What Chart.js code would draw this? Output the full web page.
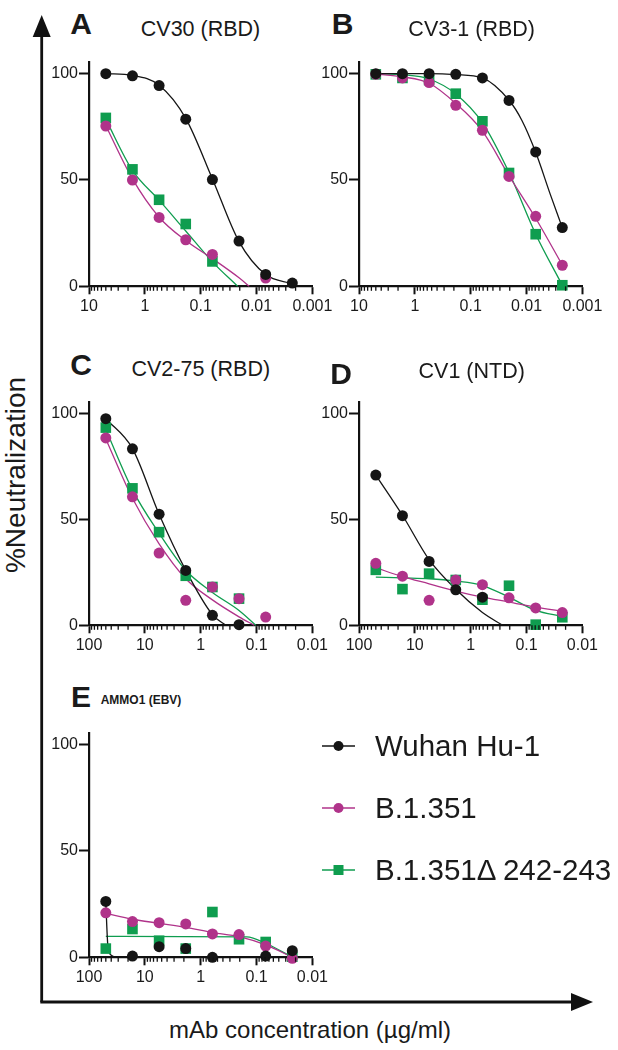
<!DOCTYPE html>
<html>
<head>
<meta charset="utf-8">
<script src="https://cdn.jsdelivr.net/npm/chart.js@4.4.1/dist/chart.umd.min.js"></script>
<style>
  html, body { margin: 0; padding: 0; background: #fff; }
  #page { position: relative; width: 618px; height: 1050px; overflow: hidden;
          font-family: "Liberation Sans", Arial, sans-serif; color: #1a1a1a; }
  #page canvas { position: absolute; }
  .txt { position: absolute; white-space: nowrap; line-height: 1; transform: translate(-50%, -50%); }
  .letter { font-size: 30px; font-weight: bold; }
  .title { font-size: 21.5px; }
  .leg { position: absolute; white-space: nowrap; line-height: 1; font-size: 29.5px; transform: translateY(-50%); }
</style>
</head>
<body>
<div id="page">
  <svg id="arrows" width="618" height="1050" style="position:absolute;left:0;top:0">
    <line x1="41.7" y1="1002" x2="41.7" y2="34" stroke="#111" stroke-width="2.8"/>
    <polygon points="41.7,15 32.7,37 50.7,37" fill="#111"/>
    <line x1="40.3" y1="1002" x2="575" y2="1002" stroke="#111" stroke-width="2.8"/>
    <polygon points="593,1002 571,993 571,1011" fill="#111"/>
  </svg>
  <div class="txt" style="left:16px;top:475px;font-size:28px;transform:translate(-50%,-50%) rotate(-90deg)">%Neutralization</div>
  <div class="txt" style="left:310px;top:1030px;font-size:24px">mAb concentration (µg/ml)</div>
</div>
<script>
// --- Daten ---
const SERIES = ["Wuhan Hu-1", "B.1.351", "B.1.351\u0394 242-243"];
const COLORS = ["#151515", "#b0338a", "#0f9d4f"];
const SHAPES = ["circle", "circle", "rect"];

// 3-fach Verdünnungen (µg/ml)
const concAB = [5, 1.667, 0.5556, 0.1852, 0.0617, 0.0206, 0.00686, 0.00229];
const concCDE = [50, 16.67, 5.556, 1.852, 0.617, 0.206, 0.0686, 0.0229];

const xTicksAB = ["10", "1", "0.1", "0.01", "0.001"];
const xTicksCDE = ["100", "10", "1", "0.1", "0.01"];
const yTicks = [0, 50, 100];

// A: CV30 (RBD)
const aWuhan = [100, 99, 94.4, 78.6, 50.2, 21.3, 5.6, 1.5];
const aB1351 = [75.4, 50, 32.4, 21.9, 15, null, 3.9, null];
const aDelta = [79.2, 55, 40.7, 29.3, 11.7, null, null, null];
const aWuhanFit = [[5,100],[1.667,99.2],[0.5556,94.6],[0.1852,79],[0.0617,50.5],[0.0206,21],[0.00686,5.5],[0.00229,1.2]];
const aB1351Fit = [[5,75.5],[1.667,50.5],[0.5556,32.5],[0.1852,21.5],[0.0617,13],[0.0206,4],[0.0135,0]];
const aDeltaFit = [[5,78.5],[1.667,54.5],[0.5556,40.5],[0.1852,26],[0.0617,11.5],[0.0218,0]];

// B: CV3-1 (RBD)
const bWuhan = [100, 100, 100, 99.7, 98, 87.4, 63.2, 27.6];
const bB1351 = [99.7, 98, 95.8, 85.1, 73.4, 51.7, 32.9, 9.9];
const bDelta = [99.7, 98, 97, 90.6, 77.6, 53.3, 24.5, 0.5];
const bWuhanFit = [[5,100],[1.667,100],[0.5556,100],[0.1852,99.6],[0.0617,98],[0.0206,87.5],[0.0121,78],[0.00686,63],[0.00373,43],[0.00229,27.6]];
const bB1351Fit = [[5,99.8],[1.667,98.5],[0.5556,95.5],[0.1852,86],[0.0617,73],[0.0206,52],[0.00686,32],[0.00229,10]];
const bDeltaFit = [[5,100],[1.667,99.5],[0.5556,97.5],[0.1852,90.5],[0.0617,77],[0.0206,53.5],[0.00686,24.5],[0.00229,0.5]];

// C: CV2-75 (RBD)
const cWuhan = [97.6, 83.4, 52.5, 25.9, 4.7, 0.3, null, null];
const cB1351 = [88.5, 60.7, 34.1, 11.8, 18.1, 12.6, 3.9, null];
const cDelta = [93.4, 64.7, 44, 23.4, 18.1, 12.6, null, null];
const cWuhanFit = [[50,97.6],[16.67,83.5],[5.556,52.5],[1.852,26],[0.617,5],[0.353,0]];
const cB1351Fit = [[50,88],[16.67,60],[5.556,38.5],[1.852,22],[0.617,12],[0.206,4],[0.11,0]];
const cDeltaFit = [[50,92.5],[16.67,64],[5.556,43.5],[1.852,26],[0.617,15.5],[0.206,7],[0.103,0]];

// D: CV1 (NTD)
const dWuhan = [71, 51.8, 30.2, 16.8, 13.3, null, null, null];
const dB1351 = [29.3, 23.2, 11.8, 21.4, 19.2, 13, 8.2, 6];
const dDelta = [26.2, 17.1, 24.4, 21.4, 12.1, 18.7, 0.3, 3.8];
const dWuhanFit = [[50,71],[16.67,52],[5.556,31],[1.852,17],[0.617,6],[0.268,0]];
const dB1351Fit = [[50,27.2],[16.67,23],[5.556,19.6],[1.852,16.2],[0.617,13.3],[0.206,11],[0.0686,8.6],[0.0229,6.6]];
const dDeltaFit = [[50,22.8],[16.67,22.4],[5.556,22],[1.852,20.9],[0.617,18.8],[0.206,13.3],[0.0686,7],[0.0229,4.2]];

// E: AMMO1 (EBV)
const eWuhan = [26.3, 0.6, 5, 4.1, 0, null, 0.6, 3.1];
const eB1351 = [20.9, 16.8, 16.3, 15.7, 11, 10.7, 5.3, -0.5];
const eDelta = [4.1, 13.3, 7.8, 4.1, 21.3, 8.5, 7.2, 0.3];
const eWuhanFit = [[50,25.5],[45.8,5],[40,1],[33,0]];
const eB1351Fit = [[50,20.7],[16.67,17.9],[5.556,16],[1.852,14.1],[0.617,11.6],[0.206,9.7],[0.0686,5.8],[0.0229,0]];
const eDeltaFit = [[50,9.8],[0.15,9.6],[0.0686,6.6],[0.0229,0]];

// --- Layout der Panels (Pixel der Plotfläche) ---
const AXIS = "#111";
const FONT = "Liberation Sans, Arial, sans-serif";
const Y_TOP = 105.5;

const panels = [
  { L: 89.3, R: 312.7, T: 61.7, B: 286, conc: concAB, ticks: xTicksAB,
    pts: [aWuhan, aB1351, aDelta], fits: [aWuhanFit, aB1351Fit, aDeltaFit] },
  { L: 359.3, R: 582.7, T: 61.7, B: 286, conc: concAB, ticks: xTicksAB,
    pts: [bWuhan, bB1351, bDelta], fits: [bWuhanFit, bB1351Fit, bDeltaFit] },
  { L: 89.3, R: 312.7, T: 401.7, B: 625, conc: concCDE, ticks: xTicksCDE,
    pts: [cWuhan, cB1351, cDelta], fits: [cWuhanFit, cB1351Fit, cDeltaFit] },
  { L: 359.3, R: 582.7, T: 401.7, B: 625, conc: concCDE, ticks: xTicksCDE,
    pts: [dWuhan, dB1351, dDelta], fits: [dWuhanFit, dB1351Fit, dDeltaFit] },
  { L: 89.3, R: 312.7, T: 733, B: 957.3, conc: concCDE, ticks: xTicksCDE,
    pts: [eWuhan, eB1351, eDelta], fits: [eWuhanFit, eB1351Fit, eDeltaFit] }
];

// Überschriften: [text, x, y, class, extra style]
const headers = [
  ["A", 81, 24, "letter"], ["CV30 (RBD)", 200.5, 30, "title"],
  ["B", 342.5, 24, "letter"], ["CV3-1 (RBD)", 471.7, 30, "title"],
  ["C", 81, 365, "letter"], ["CV2-75 (RBD)", 200.8, 370, "title"],
  ["D", 341, 373.5, "letter"], ["CV1 (NTD)", 471.7, 371.5, "title"],
  ["E", 81, 697, "letter"], ["AMMO1 (EBV)", 141, 700, "title", "font-size:12px;font-weight:bold"]
];

// --- kleine Log-Ticks (2..9 je Dekade) ---
const minorTicks = {
  id: "minorTicks",
  afterDraw(chart) {
    const sc = chart.scales.x;
    const {ctx} = chart;
    const e0 = Math.round(Math.log10(sc.min)), e1 = Math.round(Math.log10(sc.max));
    ctx.save();
    ctx.strokeStyle = AXIS;
    ctx.lineWidth = 1.3;
    for (let e = e0; e < e1; e++) {
      for (let m = 2; m <= 9; m++) {
        const px = sc.getPixelForValue(m * Math.pow(10, e));
        ctx.beginPath();
        ctx.moveTo(px, sc.top);
        ctx.lineTo(px, sc.top + 4.5);
        ctx.stroke();
      }
    }
    ctx.restore();
  }
};

const page = document.getElementById("page");

function makePanel(p) {
  const padL = 52, padT = 14, padR = 34, padB = 42;
  const w = Math.ceil(p.R - p.L + padL + padR);
  const h = Math.ceil(p.B - p.T + padT + padB);
  const rightPad = w - padL - (p.R - p.L);
  const xh = h - padT - (p.B - p.T);

  const cv = document.createElement("canvas");
  cv.width = w; cv.height = h;
  cv.style.left = (p.L - padL) + "px";
  cv.style.top = (p.T - padT) + "px";
  cv.style.width = w + "px";
  cv.style.height = h + "px";
  page.appendChild(cv);

  const tickVals = p.ticks.map(Number);
  const datasets = [];
  p.pts.forEach((vals, i) => {
    datasets.push({
      type: "scatter",
      data: p.conc.map((x, k) => ({x, y: vals[k]})).filter(d => d.y !== null),
      pointStyle: SHAPES[i],
      pointRadius: SHAPES[i] === "rect" ? 7.5 : 5.5,
      pointBackgroundColor: COLORS[i],
      pointBorderColor: COLORS[i],
      pointBorderWidth: 0,
      showLine: false,
      clip: false,
      order: i
    });
  });
  p.fits.forEach((pts, i) => {
    datasets.push({
      type: "line",
      data: pts.map(([x, y]) => ({x, y})),
      borderColor: COLORS[i],
      borderWidth: 1.3,
      pointRadius: 0,
      cubicInterpolationMode: "monotone",
      fill: false,
      clip: false,
      order: 10 + i
    });
  });

  new Chart(cv, {
    data: { datasets },
    plugins: [minorTicks],
    options: {
      responsive: false,
      animation: false,
      events: [],
      layout: { padding: { left: 0, top: padT, right: rightPad, bottom: 0 } },
      plugins: { legend: { display: false }, tooltip: { enabled: false } },
      scales: {
        x: {
          type: "logarithmic",
          reverse: true,
          min: Math.min(...tickVals),
          max: Math.max(...tickVals),
          afterBuildTicks: s => { s.ticks = tickVals.map(v => ({value: v})); },
          afterFit: s => { s.height = xh; },
          border: { display: true, color: AXIS, width: 2.2 },
          grid: { drawOnChartArea: false, drawTicks: true, tickLength: 8, tickWidth: 2, tickColor: AXIS },
          ticks: {
            autoSkip: false, maxRotation: 0, padding: 3,
            color: "#1a1a1a", font: { family: FONT, size: 16 },
            callback: (v) => p.ticks[tickVals.indexOf(v)] ?? ""
          }
        },
        y: {
          type: "linear",
          min: 0,
          max: Y_TOP,
          afterBuildTicks: s => { s.ticks = yTicks.map(v => ({value: v})); },
          afterFit: s => { s.width = padL; },
          border: { display: true, color: AXIS, width: 2.2 },
          grid: { drawOnChartArea: false, drawTicks: true, tickLength: 10, tickWidth: 2, tickColor: AXIS },
          ticks: { padding: 1, color: "#1a1a1a", font: { family: FONT, size: 16 } }
        }
      }
    }
  });
}

panels.forEach(makePanel);

// --- Überschriften ---
headers.forEach(([text, x, y, cls, extra]) => {
  const d = document.createElement("div");
  d.className = "txt " + cls;
  d.textContent = text;
  d.style.left = x + "px";
  d.style.top = y + "px";
  if (extra) d.style.cssText += ";" + extra;
  page.appendChild(d);
});

// --- Legende ---
const legendRows = [746, 808, 870];
SERIES.forEach((name, i) => {
  const y = legendRows[i];
  const ns = "http://www.w3.org/2000/svg";
  const svg = document.createElementNS(ns, "svg");
  svg.setAttribute("width", "36");
  svg.setAttribute("height", "14");
  svg.style.cssText = `position:absolute;left:321px;top:${y - 7}px`;
  const ln = document.createElementNS(ns, "line");
  ln.setAttribute("x1", "1"); ln.setAttribute("x2", "34");
  ln.setAttribute("y1", "7"); ln.setAttribute("y2", "7");
  ln.setAttribute("stroke", COLORS[i]); ln.setAttribute("stroke-width", "1.6");
  svg.appendChild(ln);
  let mk;
  if (SHAPES[i] === "rect") {
    mk = document.createElementNS(ns, "rect");
    mk.setAttribute("x", "12.5"); mk.setAttribute("y", "2");
    mk.setAttribute("width", "10"); mk.setAttribute("height", "10");
  } else {
    mk = document.createElementNS(ns, "circle");
    mk.setAttribute("cx", "17.5"); mk.setAttribute("cy", "7"); mk.setAttribute("r", "5");
  }
  mk.setAttribute("fill", COLORS[i]);
  svg.appendChild(mk);
  page.appendChild(svg);

  const t = document.createElement("div");
  t.className = "leg";
  t.textContent = name;
  t.style.left = "375px";
  t.style.top = y + "px";
  page.appendChild(t);
});
</script>
</body>
</html>
